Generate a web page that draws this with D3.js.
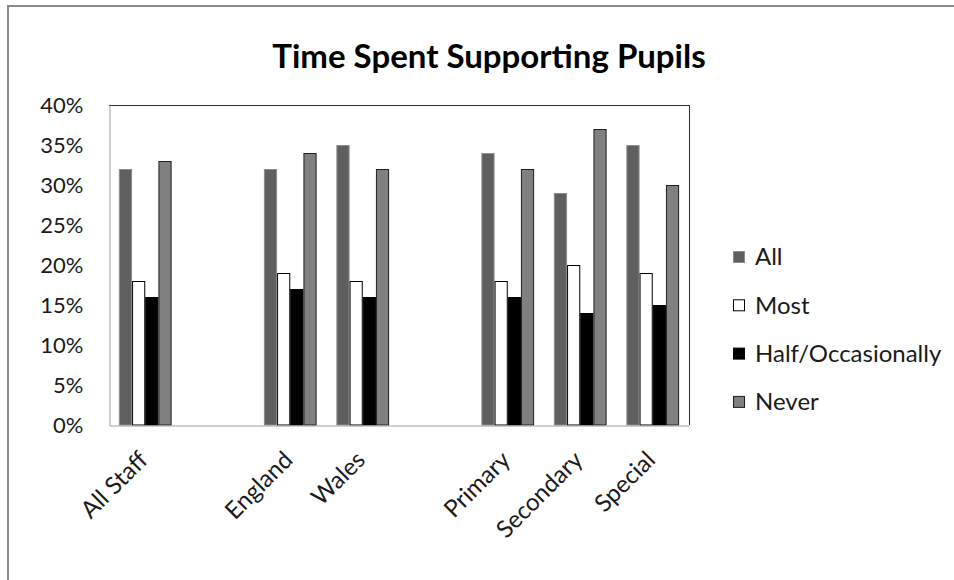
<!DOCTYPE html>
<html>
<head>
<meta charset="utf-8">
<script src="https://cdn.jsdelivr.net/npm/d3@7"></script>
<style>
  html, body { margin: 0; padding: 0; background: #fff; }
  svg { display: block; font-family: Lato, "Open Sans", sans-serif; }
</style>
</head>
<body>
<svg id="chart" width="954" height="580"></svg>
<script>
// ---- data ----
const categories = ["All Staff", "", "England", "Wales", "", "Primary", "Secondary", "Special"];
const seriesNames = ["All", "Most", "Half/Occasionally", "Never"];
const allValues   = [0.32, null, 0.32, 0.35, null, 0.34, 0.29, 0.35];
const mostValues  = [0.18, null, 0.19, 0.18, null, 0.18, 0.20, 0.19];
const halfValues  = [0.16, null, 0.17, 0.16, null, 0.16, 0.14, 0.15];
const neverValues = [0.33, null, 0.34, 0.32, null, 0.32, 0.37, 0.30];
const yTicks = [0, 0.05, 0.10, 0.15, 0.20, 0.25, 0.30, 0.35, 0.40];
const title = "Time Spent Supporting Pupils";

const seriesValues = [allValues, mostValues, halfValues, neverValues];
const fills   = ["#5f5f5f", "#ffffff", "#000000", "#808080"];
const strokes = ["#8c8c8c", "#000000", "#000000", "#1e1e1e"];

// ---- layout ----
const svg = d3.select("#chart");
const plot = { left: 109, right: 689, top: 105, bottom: 425 };

// outer chart frame (top & left visible)
svg.append("line").attr("x1", 8).attr("x2", 954).attr("y1", 6).attr("y2", 6)
  .attr("stroke", "#8a8a8a").attr("stroke-width", 2);
svg.append("line").attr("x1", 8).attr("x2", 8).attr("y1", 5).attr("y2", 580)
  .attr("stroke", "#8a8a8a").attr("stroke-width", 2);

const x0 = d3.scaleBand()
  .domain(d3.range(categories.length))
  .range([plot.left, plot.right])
  .paddingInner(1.5 / 5.5)
  .paddingOuter(0.75 / 5.5);
const x1 = d3.scaleBand()
  .domain(d3.range(seriesNames.length))
  .range([0, x0.bandwidth()]);
const y = d3.scaleLinear().domain([0, 0.4]).range([plot.bottom, plot.top]);

// plot frame
svg.append("line").attr("x1", plot.left).attr("x2", plot.right + 0.5)
  .attr("y1", plot.top + 0.5).attr("y2", plot.top + 0.5).attr("stroke", "#2b2b2b");
svg.append("line").attr("x1", plot.right + 0.5).attr("x2", plot.right + 0.5)
  .attr("y1", plot.top).attr("y2", plot.bottom).attr("stroke", "#2b2b2b");

// bars
const bars = [];
seriesValues.forEach((vals, s) => vals.forEach((v, i) => {
  if (v != null) bars.push({ s, i, v });
}));
svg.append("g").selectAll("rect").data(bars).join("rect")
  .attr("x", d => x0(d.i) + x1(d.s) + 0.5)
  .attr("y", d => y(d.v) + 0.5)
  .attr("width", x1.bandwidth() - 1)
  .attr("height", d => y(0) - y(d.v) - 0.5)
  .attr("fill", d => fills[d.s])
  .attr("stroke", d => strokes[d.s])
  .attr("stroke-width", 1);

// y axis
const yAxis = svg.append("g").attr("transform", `translate(${plot.left + 0.5},0)`)
  .call(d3.axisLeft(y).tickValues(yTicks).tickFormat(d3.format(".0%")).tickSize(0).tickPadding(26));
yAxis.select(".domain").attr("stroke", "#a0a0a0");
yAxis.selectAll("text").attr("font-size", 22).attr("fill", "#1a1a1a")
  .attr("font-family", "Lato, sans-serif");

// x axis
const xAxis = svg.append("g").attr("transform", `translate(0,${plot.bottom + 0.5})`)
  .call(d3.axisBottom(x0).tickFormat(i => categories[i]).tickSize(0).tickPadding(0));
xAxis.select(".domain").attr("stroke", "#a0a0a0");
xAxis.selectAll("text")
  .attr("font-size", 24).attr("fill", "#1a1a1a").attr("font-family", "Lato, sans-serif")
  .attr("text-anchor", "end")
  .attr("dy", "0.35em")
  .attr("transform", "translate(-2,30) rotate(-45)");

// title
svg.append("text").attr("x", 489).attr("y", 68).attr("text-anchor", "middle")
  .attr("font-size", 33).attr("font-weight", "bold").attr("fill", "#000")
  .text(title);

// legend
const legend = svg.append("g").selectAll("g").data(seriesNames).join("g")
  .attr("transform", (d, i) => `translate(733, ${257 + i * 48.3})`);
legend.append("rect").attr("x", 0.5).attr("y", -5.5).attr("width", 11).attr("height", 11)
  .attr("fill", (d, i) => fills[i]).attr("stroke", (d, i) => strokes[i]);
legend.append("text").attr("x", 22).attr("dy", "0.35em").attr("font-size", 24)
  .attr("fill", "#1a1a1a").text(d => d);
</script>
</body>
</html>
